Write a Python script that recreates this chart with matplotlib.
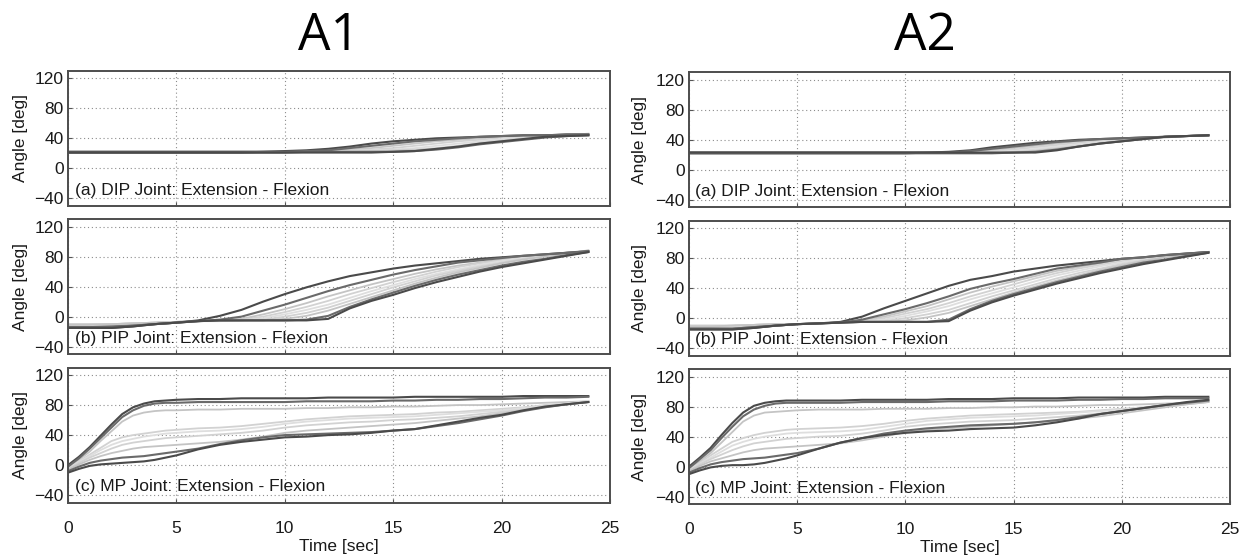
import matplotlib
matplotlib.use("Agg")
import matplotlib.pyplot as plt
import numpy as np

plt.rcParams['font.family'] = ['Liberation Sans', 'DejaVu Sans']

# time axis (sec), one sample per second
time_sec = list(range(25))
# MP joint moves fast at the start, so it is sampled every half second up to 5 s
time_mp = [0, 0.5, 1, 1.5, 2, 2.5, 3, 3.5, 4, 4.5, 5] + list(range(6, 25))

# line shades: dark extreme trials outside, lighter trials in between
curve_colors = ['#4a4a4a', '#6a6a6a', '#c4c4c4', '#d2d2d2', '#dedede', '#d2d2d2', '#c4c4c4',
                '#6a6a6a', '#4a4a4a']

# ---- A1 ----
dip_a1 = [
    [22, 22, 22, 22, 22, 22, 22, 22, 22, 22, 23, 24, 26, 29, 33, 36, 38, 40, 41, 42, 43, 44, 44, 45, 45],
    [21, 21, 21, 21, 21, 21, 21, 21, 21, 22, 22, 23, 24, 27, 30, 33, 36, 38, 40, 42, 43, 44, 44, 45, 45],
    [22, 22, 22, 22, 22, 22, 22, 22, 22, 22, 22, 23, 24, 25, 27, 30, 33, 36, 38, 40, 42, 43, 44, 45, 45],
    [23, 23, 23, 23, 23, 23, 23, 23, 23, 23, 23, 23, 23, 24, 25, 27, 30, 33, 36, 38, 41, 42, 44, 45, 46],
    [23, 23, 23, 23, 23, 23, 23, 23, 23, 23, 23, 23, 23, 23, 24, 25, 27, 30, 33, 36, 39, 41, 43, 45, 46],
    [22, 22, 22, 22, 22, 22, 22, 22, 22, 22, 22, 22, 22, 22, 23, 24, 25, 27, 30, 34, 37, 40, 43, 45, 46],
    [22, 22, 22, 22, 22, 22, 22, 22, 22, 22, 22, 22, 22, 22, 22, 23, 24, 26, 29, 33, 36, 39, 42, 44, 45],
    [21, 21, 21, 21, 21, 21, 21, 21, 21, 21, 21, 22, 22, 22, 22, 22, 23, 25, 28, 32, 35, 38, 41, 43, 44],
    [21, 21, 21, 21, 21, 21, 21, 21, 21, 21, 21, 21, 21, 21, 21, 22, 23, 26, 29, 33, 36, 39, 42, 43, 44],
]
pip_a1 = [
    [-15, -15, -15, -13, -10, -8, -5, 1, 9, 20, 30, 39, 47, 54, 59, 64, 68, 71, 74, 77, 79, 81, 83, 85, 87],
    [-14, -14, -14, -12, -10, -8, -6, -4, 0, 8, 16, 25, 34, 42, 49, 56, 62, 67, 72, 75, 78, 81, 83, 85, 87],
    [-10, -10, -10, -9, -8, -7, -6, -5, -3, 3, 10, 18, 27, 35, 43, 50, 57, 63, 68, 72, 76, 79, 82, 85, 87],
    [-11, -11, -10, -9, -8, -7, -6, -5, -4, 0, 6, 13, 21, 30, 38, 46, 53, 60, 66, 71, 75, 79, 82, 85, 88],
    [-12, -12, -11, -10, -9, -7, -6, -5, -5, -2, 3, 9, 16, 25, 34, 42, 50, 57, 63, 69, 74, 78, 82, 85, 88],
    [-10, -10, -10, -9, -8, -7, -6, -5, -5, -4, 0, 5, 12, 21, 30, 39, 47, 55, 61, 67, 72, 77, 81, 85, 88],
    [-11, -11, -10, -9, -8, -7, -6, -6, -5, -5, -3, 1, 8, 17, 26, 35, 44, 52, 59, 65, 71, 76, 80, 84, 88],
    [-14, -14, -13, -12, -10, -8, -6, -5, -5, -5, -5, -4, 1, 13, 23, 32, 41, 49, 56, 62, 68, 73, 77, 82, 86],
    [-15, -15, -15, -13, -10, -8, -6, -5, -5, -5, -5, -5, -3, 11, 21, 29, 38, 46, 53, 60, 66, 71, 76, 81, 86],
]
mp_a1 = [
    [0, 11, 24, 39, 54, 68, 77, 82, 85, 86, 87, 88, 88, 89, 89, 89, 89, 90, 90, 90, 90, 91, 91, 91, 91, 91, 92, 92, 92, 92],
    [-2, 9, 22, 36, 50, 64, 73, 79, 82, 83, 83, 84, 84, 84, 84, 84, 85, 85, 85, 85, 86, 86, 87, 87, 88, 88, 89, 90, 90, 91],
    [-2, 7, 18, 32, 45, 58, 66, 70, 72, 73, 73, 74, 74, 75, 75, 75, 76, 76, 77, 77, 78, 78, 79, 80, 80, 81, 82, 83, 84, 85],
    [-3, 5, 14, 23, 32, 37, 40, 42, 44, 46, 47, 49, 50, 52, 55, 58, 61, 63, 65, 66, 67, 68, 70, 71, 73, 75, 77, 80, 82, 85],
    [-4, 4, 12, 20, 27, 32, 35, 38, 40, 42, 43, 45, 46, 48, 51, 55, 58, 60, 62, 63, 64, 65, 67, 69, 71, 73, 76, 79, 82, 85],
    [-5, 3, 10, 16, 22, 27, 30, 32, 34, 36, 37, 39, 41, 43, 46, 50, 53, 55, 57, 58, 60, 61, 63, 65, 68, 71, 74, 78, 81, 84],
    [-6, 1, 7, 12, 16, 19, 22, 24, 25, 26, 27, 29, 31, 34, 38, 43, 46, 48, 50, 52, 54, 56, 59, 62, 65, 69, 73, 77, 81, 84],
    [-8, -2, 3, 6, 8, 10, 11, 12, 14, 16, 18, 22, 28, 33, 37, 40, 41, 42, 43, 44, 46, 48, 52, 56, 61, 66, 72, 77, 81, 84],
    [-10, -5, -1, 1, 2, 3, 4, 5, 7, 10, 13, 21, 27, 31, 34, 37, 38, 40, 41, 43, 46, 48, 53, 58, 63, 67, 73, 78, 81, 84],
]

# ---- A2 ----
dip_a2 = [
    [23, 23, 23, 23, 23, 23, 23, 23, 23, 23, 23, 23, 24, 26, 30, 33, 36, 38, 40, 41, 42, 43, 44, 45, 46],
    [22, 22, 22, 22, 22, 22, 22, 22, 22, 22, 22, 23, 23, 25, 28, 31, 34, 37, 39, 41, 42, 43, 44, 45, 46],
    [23, 23, 23, 23, 23, 23, 23, 23, 23, 23, 23, 23, 23, 24, 26, 29, 32, 35, 38, 40, 42, 43, 44, 45, 46],
    [23, 23, 23, 23, 23, 23, 23, 23, 23, 23, 23, 23, 23, 23, 25, 27, 30, 33, 36, 39, 41, 43, 44, 45, 46],
    [23, 23, 23, 23, 23, 23, 23, 23, 23, 23, 23, 23, 23, 23, 24, 25, 28, 31, 34, 37, 40, 42, 44, 45, 46],
    [23, 23, 23, 23, 23, 23, 23, 23, 23, 23, 23, 23, 23, 23, 23, 24, 26, 29, 32, 36, 39, 42, 44, 45, 46],
    [23, 23, 23, 23, 23, 23, 23, 23, 23, 23, 23, 23, 23, 23, 23, 23, 25, 28, 31, 35, 38, 41, 43, 45, 46],
    [22, 22, 22, 22, 22, 22, 22, 22, 22, 22, 22, 22, 22, 22, 22, 23, 24, 27, 31, 35, 38, 41, 44, 45, 46],
    [23, 23, 23, 23, 23, 23, 23, 23, 23, 23, 23, 23, 23, 23, 23, 23, 23, 26, 31, 35, 38, 41, 44, 45, 46],
]
pip_a2 = [
    [-15, -15, -15, -13, -10, -8, -7, -5, 2, 13, 23, 33, 43, 51, 56, 62, 66, 70, 73, 76, 79, 81, 84, 86, 88],
    [-14, -14, -14, -12, -10, -8, -7, -6, -2, 5, 12, 20, 29, 39, 46, 52, 59, 66, 70, 74, 79, 81, 84, 86, 88],
    [-10, -10, -10, -9, -8, -8, -7, -6, -3, 2, 9, 16, 25, 34, 42, 49, 56, 63, 68, 73, 78, 81, 84, 86, 88],
    [-11, -11, -10, -9, -8, -8, -7, -6, -4, 0, 6, 12, 20, 29, 37, 45, 53, 60, 66, 71, 76, 80, 83, 86, 88],
    [-12, -12, -11, -10, -9, -8, -7, -6, -5, -2, 3, 9, 16, 25, 33, 41, 49, 57, 63, 69, 74, 79, 83, 86, 88],
    [-10, -10, -10, -9, -8, -8, -7, -6, -5, -4, 0, 5, 11, 20, 29, 37, 45, 53, 60, 66, 72, 77, 82, 85, 88],
    [-11, -11, -10, -9, -8, -8, -7, -6, -5, -5, -3, 1, 7, 16, 25, 34, 42, 50, 57, 64, 70, 76, 81, 85, 88],
    [-14, -14, -14, -12, -10, -8, -7, -6, -5, -5, -5, -5, -2, 12, 23, 32, 40, 48, 55, 62, 68, 74, 78, 83, 87],
    [-15, -15, -15, -13, -10, -8, -7, -6, -5, -5, -5, -5, -4, 10, 21, 30, 38, 46, 53, 60, 66, 72, 77, 82, 87],
]
mp_a2 = [
    [0, 12, 25, 42, 58, 72, 81, 85, 87, 88, 88, 88, 88, 89, 89, 89, 89, 90, 90, 90, 91, 91, 91, 92, 92, 92, 92, 93, 93, 93],
    [-2, 10, 22, 38, 53, 67, 76, 81, 84, 85, 85, 85, 85, 86, 86, 86, 86, 87, 87, 87, 88, 88, 88, 89, 89, 90, 90, 91, 91, 91],
    [-2, 7, 18, 32, 46, 60, 68, 72, 73, 74, 75, 76, 76, 76, 77, 77, 77, 78, 78, 79, 79, 80, 80, 81, 82, 82, 83, 84, 85, 86],
    [-3, 5, 15, 24, 33, 38, 42, 45, 47, 49, 50, 51, 52, 54, 57, 61, 64, 66, 68, 69, 70, 71, 72, 73, 75, 77, 79, 82, 84, 87],
    [-4, 4, 12, 20, 28, 33, 37, 40, 42, 44, 45, 46, 47, 49, 53, 57, 61, 63, 65, 66, 67, 68, 70, 72, 74, 76, 79, 81, 84, 87],
    [-5, 3, 10, 16, 22, 27, 31, 33, 35, 37, 38, 40, 41, 44, 48, 53, 56, 58, 60, 61, 62, 64, 66, 68, 71, 74, 77, 80, 83, 86],
    [-6, 1, 7, 11, 15, 19, 22, 24, 25, 26, 27, 29, 31, 35, 40, 46, 49, 51, 53, 55, 57, 59, 61, 64, 67, 71, 75, 79, 83, 86],
    [-8, -2, 3, 6, 8, 10, 11, 12, 14, 16, 18, 24, 32, 38, 44, 48, 51, 53, 55, 56, 57, 59, 62, 66, 70, 74, 78, 82, 85, 88],
    [-10, -5, -1, 1, 2, 2, 3, 5, 8, 11, 15, 24, 32, 38, 42, 45, 47, 48, 50, 51, 52, 55, 59, 64, 70, 74, 78, 82, 86, 89],
]

panel_labels = ['(a) DIP Joint: Extension - Flexion',
                '(b) PIP Joint: Extension - Flexion',
                '(c) MP Joint: Extension - Flexion']
column_titles = ['A1', 'A2']
y_ticks = [-40, 0, 40, 80, 120]
x_ticks = [0, 5, 10, 15, 20, 25]

W, H = 1247, 556
fig = plt.figure(figsize=(W / 100, H / 100), dpi=100)


def draw_panel(ax, t, curves, label, show_x):
    # light trials first so the dark extremes stay on top
    order = [2, 3, 4, 5, 6, 0, 1, 7, 8]
    for i in order:
        lw = 1.5 if i in (0, 1, 7, 8) else 1.3
        ax.plot(t, curves[i], color=curve_colors[i], lw=lw)
    ax.set_xlim(0, 25)
    ax.set_ylim(-50, 130)
    ax.set_xticks(x_ticks)
    ax.set_yticks(y_ticks)
    ax.grid(True, linestyle=(0, (1, 2.5)), color='#8c8c8c', lw=0.8)
    ax.tick_params(direction='in', length=3, width=0.8, color='#555555',
                   labelsize=12.5, labelcolor='#1a1a1a', pad=3)
    ax.tick_params(axis='x', pad=13)
    if not show_x:
        ax.tick_params(axis='x', labelbottom=False)
    for s in ax.spines.values():
        s.set_color('#4d4d4d')
        s.set_linewidth(1.4)
    ax.text(0.3, -29, label, fontsize=12.5, color='#1a1a1a', ha='left', va='center')


# axes boxes in pixels (left, right, vertical shift)
columns = [(68, 610, 0.0), (689, 1230, 1.5)]
row_tops = [70.7, 219.0, 367.5]
row_h = 135.2
data_cols = [[dip_a1, pip_a1, mp_a1], [dip_a2, pip_a2, mp_a2]]
time_rows = [time_sec, time_sec, time_mp]
ylabel_x = [-0.074, -0.078]
title_x = [329, 925]

for c, (x0, x1, dy) in enumerate(columns):
    for r in range(3):
        top = row_tops[r] + dy
        ax = fig.add_axes([x0 / W, 1 - (top + row_h) / H, (x1 - x0) / W, row_h / H])
        draw_panel(ax, time_rows[r], data_cols[c][r], panel_labels[r], r == 2)
        ax.set_ylabel('Angle [deg]', fontsize=12.5, color='#1a1a1a')
        ax.yaxis.set_label_coords(ylabel_x[c], 0.5)
        if r == 2:
            ax.set_xlabel('Time [sec]', fontsize=12.5, color='#1a1a1a', labelpad=2)
    fig.text(title_x[c] / W, 1 - 37 / H, column_titles[c], fontsize=37,
             family='Open Sans', ha='center', va='center', color='black')

fig.savefig('out.png', dpi=100)
